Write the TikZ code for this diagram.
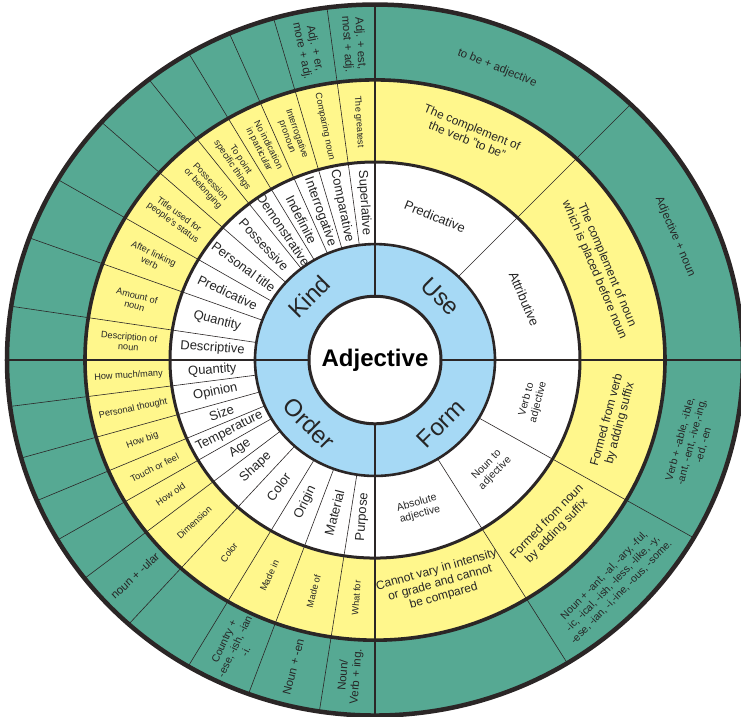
\documentclass[tikz,border=0pt]{standalone}
\usepackage{fontspec}
\setmainfont{Liberation Sans}
\definecolor{wheelgreen}{HTML}{56A993}
\definecolor{wheelyellow}{HTML}{FFF78C}
\definecolor{wheelblue}{HTML}{A6D9F5}
\definecolor{rimgray}{HTML}{2B2626}
\definecolor{inkgray}{HTML}{262626}
\tikzset{
  spoke/.style={draw=rimgray,line width=0.6pt},
  axisline/.style={draw=rimgray,line width=2.2pt},
  rim/.style={draw=rimgray,line width=#1},
  word/.style={inner sep=0pt,align=center,text=inkgray},
  wordw/.style={word,font=\fontsize{13}{15}\selectfont},
  wordws/.style={word,font=\fontsize{10.5}{12}\selectfont},
  wordy/.style={word,font=\fontsize{9.2}{10.2}\selectfont},
  wordyb/.style={word,font=\fontsize{12}{13.5}\selectfont},
  wordg/.style={word,font=\fontsize{11.5}{13}\selectfont},
  wordgs/.style={word,font=\fontsize{10.5}{12}\selectfont},
  hub/.style={word,text=black,font=\fontsize{24}{28}\selectfont\bfseries},
  part/.style={word,font=\fontsize{24}{28}\selectfont}
}
\begin{document}
\begin{tikzpicture}[x=1pt,y=0.966pt]
\useasboundingbox (-375,-368.5) rectangle (366,372.7);
% rings
\fill[wheelgreen] (0,0) circle (368);
\fill[wheelyellow] (0,0) circle (290);
\fill[white] (0,0) circle (205);
\fill[wheelblue] (0,0) circle (120);
% spokes
\foreach \b in {7.5,16,23.3,30.4,37.9,48,59.5,69.9,81.3}{
  \draw[spoke] ({90+\b}:120) -- ({90+\b}:368);
  \draw[spoke] ({180+\b}:120) -- ({180+\b}:368);
}
\foreach \b in {46,301.5,330}
  \draw[spoke] (\b:120) -- (\b:368);
\foreach \a in {0,90,180,270}
  \draw[axisline] (\a:66) -- (\a:368);
\draw[rim=2.6pt] (0,0) circle (120);
\draw[rim=3pt] (0,0) circle (205);
\draw[rim=3.6pt] (0,0) circle (290);
\draw[rim=4.5pt] (0,0) circle (368);
\draw[rim=3pt,fill=white] (0,0) circle (66);

\node[hub] (hub) at (0,0) {Adjective};
\node[part,rotate=45] (kind) at (135:93) {Kind};
\node[part,rotate=-45] (use) at (45:93) {Use};
\node[part,rotate=45] (form) at (315:93) {Form};
\node[part,rotate=-45] (order) at (225:93) {Order};

% kind
\foreach \c/\txt [count=\i] in {3.75/Superlative,11.75/Comparative,19.65/Interrogative,
  26.85/Indefinite,34.15/Demonstrative,42.95/Possessive,53.75/Personal title,
  64.7/Predicative,75.6/Quantity,85.65/Descriptive}
  \node[wordw,rotate=\c-90] (kindw\i) at ({90+\c}:163) {\txt};
\foreach \c/\txt [count=\i] in {3.75/The greatest,11.75/Comparing noun,
  19.65/Interrogative\\pronoun,26.85/No indication\\in particular,
  34.15/To point\\specific things,42.95/Possession\\or belonging,
  53.75/Title used for\\people's status,64.7/After linking\\verb,
  75.6/Amount of\\noun,85.65/Description of\\noun}
  \node[wordy,rotate=\c-90] (kindy\i) at ({90+\c}:247) {\txt};
\node[wordg,rotate=-86.25] (kindg1) at (93.75:328) {Adj. + est,\\most + adj.};
\node[wordg,rotate=-78.25] (kindg2) at (101.75:328) {Adj. + er,\\more + adj.};

% order
\foreach \c/\txt [count=\i] in {3.75/Quantity,11.75/Opinion,19.65/Size,
  26.85/Temperature,34.15/Age,42.95/Shape,53.75/Color,64.7/Origin,
  75.6/Material,85.65/Purpose}
  \node[wordw,rotate=\c] (orderw\i) at ({180+\c}:163) {\txt};
\foreach \c/\txt [count=\i] in {3.75/{How much{/}many},11.75/Personal thought,
  19.65/How big,26.85/Touch or feel,34.15/How old,42.95/Dimension,
  53.75/Color,64.7/Made in,75.6/Made of,85.65/What for}
  \node[wordy,rotate=\c] (ordery\i) at ({180+\c}:247) {\txt};
\node[wordg,rotate=42.95] (orderg6) at (222.95:328) {noun + -ular};
\node[wordgs,rotate=64.7] (orderg8) at (244.7:328) {Country +\\-ese, -ish, -ian\\-i.};
\node[wordg,rotate=75.6] (orderg9) at (255.6:328) {Noun + -en};
\node[wordg,rotate=85.65] (orderg10) at (265.65:328) {Noun/\\Verb + ing.};

% use
\node[wordw,rotate=-22] (usew1) at (68:160) {Predicative};
\node[wordw,rotate=-67] (usew2) at (23:162) {Attributive};
\node[wordyb,rotate=-22] (usey1) at (68:253) {The complement of\\the verb "to be"};
\node[wordyb,rotate=-67] (usey2) at (23:245) {The complement of noun\\which is placed before noun};
\node[wordg,rotate=-22] (useg1) at (68:326) {to be + adjective};
\node[wordg,rotate=-67] (useg2) at (23:326) {Adjective + noun};

% form
\node[wordws,rotate=15.75] (formw1) at (285.75:160) {Absolute\\adjective};
\node[wordws,rotate=45.75] (formw2) at (315.75:162) {Noun to\\adjective};
\node[wordws,rotate=75] (formw3) at (345:163) {Verb to\\adjective};
\node[wordyb,rotate=15.75] (formy1) at (285.75:240) {Cannot vary in intensity\\or grade and cannot\\be compared};
\node[wordyb,rotate=45.75] (formy2) at (315.75:247) {Formed from noun\\by adding suffix};
\node[wordyb,rotate=75] (formy3) at (345:247) {Formed from verb\\by adding suffix};
\node[wordgs,rotate=45.75] (formg2) at (315.75:332) {Noun + -ant, -al, -ary, -ful,\\-ic, -ical, -ish, -less, -like, -y,\\-ese, -ian, -i,-ine, -ous, -some.};
\node[wordgs,rotate=75] (formg3) at (345:328) {Verb + -able, -ible,\\-ant, -ent, -ive,-ing,\\-ed, -en};
\end{tikzpicture}
\end{document}
